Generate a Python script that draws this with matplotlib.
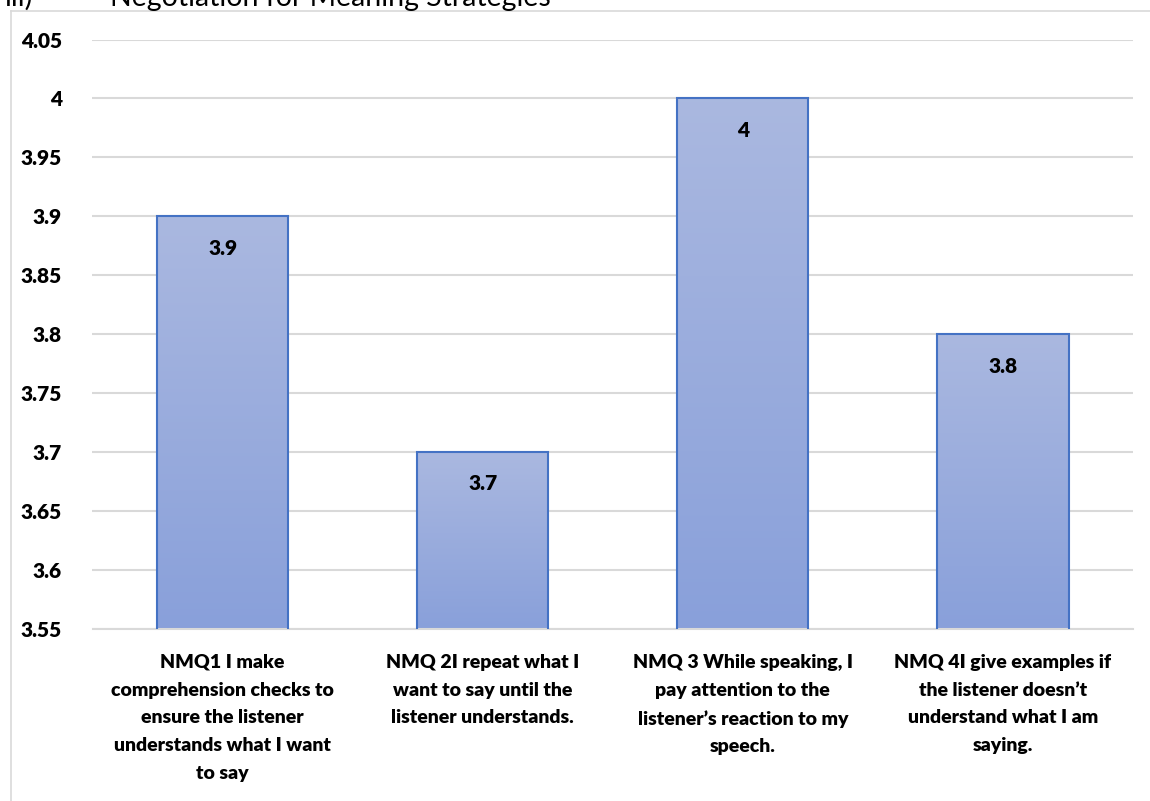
import numpy as np
import matplotlib.pyplot as plt
from matplotlib.lines import Line2D

# data
categories = [
    "NMQ1 I make\ncomprehension checks to\nensure the listener\nunderstands what I want\nto say",
    "NMQ 2I repeat what I\nwant to say until the\nlistener understands.",
    "NMQ 3 While speaking, I\npay attention to the\nlistener\u2019s reaction to my\nspeech.",
    "NMQ 4I give examples if\nthe listener doesn\u2019t\nunderstand what I am\nsaying.",
]
values = [3.9, 3.7, 4.0, 3.8]
value_labels = ["3.9", "3.7", "4", "3.8"]
yticks = [3.55, 3.6, 3.65, 3.7, 3.75, 3.8, 3.85, 3.9, 3.95, 4.0, 4.05]
ytick_labels = ["3.55", "3.6", "3.65", "3.7", "3.75", "3.8", "3.85", "3.9", "3.95", "4", "4.05"]

plt.rcParams['font.family'] = ['Lato', 'DejaVu Sans']

W, H = 1150, 801
fig = plt.figure(figsize=(W / 100, H / 100), dpi=100)
ax = fig.add_axes([92.5 / W, (H - 629) / H, (1133 - 92.5) / W, (629 - 39.5) / H])

x = np.arange(len(values))
bars = ax.bar(x, values, width=0.505, facecolor='none', edgecolor='#4472c4',
              linewidth=1.5, zorder=3)

# vertical gradient inside each bar
grad = np.linspace(0, 1, 256).reshape(-1, 1)
top = np.array([0.667, 0.722, 0.878])
bot = np.array([0.537, 0.627, 0.855])
img = top * (1 - grad[..., None]) + bot * grad[..., None]
img = img.reshape(256, 1, 3)
for b, v in zip(bars, values):
    x0 = b.get_x()
    im = ax.imshow(img, extent=[x0, x0 + b.get_width(), 3.55, v], aspect='auto',
                   zorder=2, origin='upper')
    im.set_clip_path(b)

for xi, v, lab in zip(x, values, value_labels):
    ax.text(xi, v - 0.027, lab, ha='center', va='center', fontsize=15,
            fontweight='heavy', color='black', zorder=4)

ax.set_xlim(-0.5, len(values) - 0.5)
ax.set_ylim(3.55, 4.05)
ax.set_yticks(yticks)
ax.set_yticklabels(ytick_labels, fontsize=15, fontweight='heavy')
ax.set_xticks(x)
ax.set_xticklabels(categories, fontsize=14, fontweight='heavy', linespacing=1.76, va='top')
ax.tick_params(axis='y', length=0, pad=22)
ax.tick_params(axis='x', length=0, pad=18)
ax.grid(axis='y', color='#d9d9d9', linewidth=1.5, zorder=0)
for s in ['left', 'right', 'top']:
    ax.spines[s].set_visible(False)
ax.spines['bottom'].set_color('#d9d9d9')
ax.spines['bottom'].set_linewidth(1.5)

# chart border (only top/left visible)
fig.add_artist(Line2D([10.5 / W, 10.5 / W], [0, 1 - 10.5 / H], color='#d9d9d9', linewidth=1.2))
fig.add_artist(Line2D([10.5 / W, 1], [1 - 10.5 / H, 1 - 10.5 / H], color='#d9d9d9', linewidth=1.2))

# cut-off heading above the chart
fig.text(33 / W, 1 - 6 / H, "iii)", fontsize=20.5, va='baseline', ha='right')
fig.text(110 / W, 1 - 6 / H, "Negotiation for Meaning Strategies", fontsize=20.5,
         va='baseline', ha='left')

fig.savefig("out.png", dpi=100)
